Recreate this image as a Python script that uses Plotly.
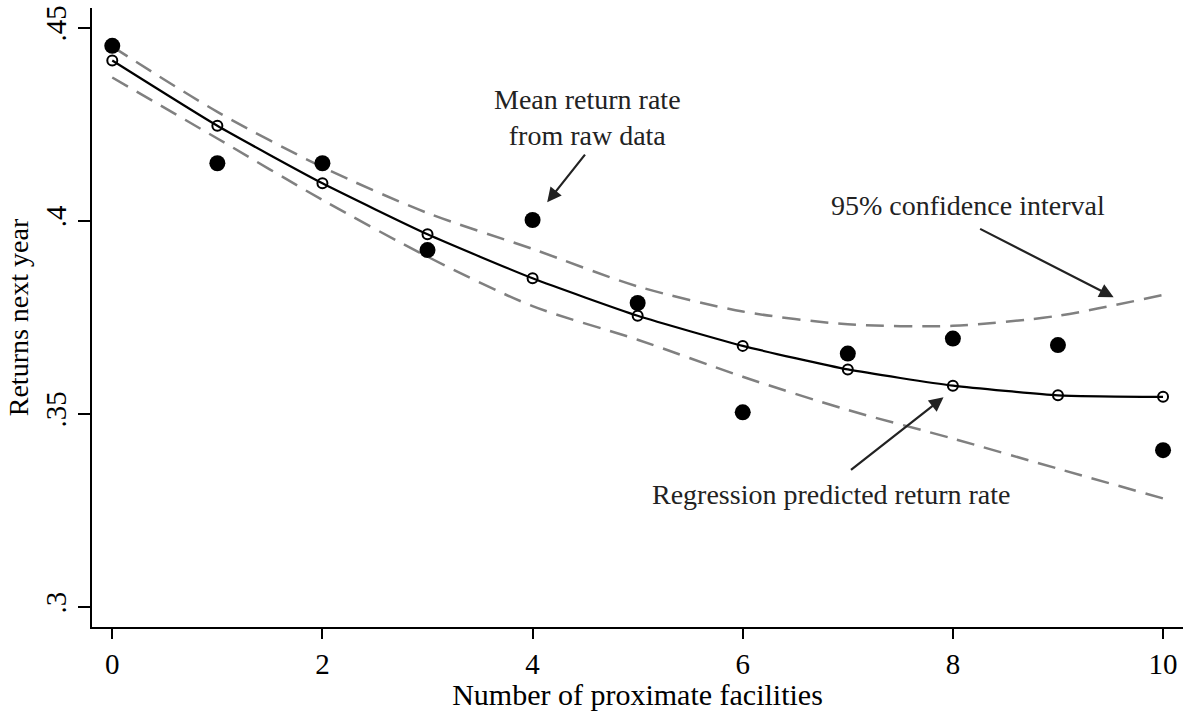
import plotly.graph_objects as go

facilities = [0, 1, 2, 3, 4, 5, 6, 7, 8, 9, 10]
raw_mean = [0.4453, 0.4149, 0.4149, 0.3924, 0.4002, 0.3787, 0.3504, 0.3656, 0.3695, 0.3678, 0.3406]
predicted = [0.4415, 0.4246, 0.4097, 0.3965, 0.3851, 0.3754, 0.3676, 0.3615, 0.3573, 0.3548, 0.3544]
ci_upper = [0.4451, 0.4282, 0.4139, 0.4020, 0.3927, 0.3830, 0.3765, 0.3732, 0.3728, 0.3754, 0.3808]
ci_lower = [0.4371, 0.4213, 0.4054, 0.3907, 0.3779, 0.3692, 0.3596, 0.3510, 0.3436, 0.3358, 0.3281]

x_ticks = [0, 2, 4, 6, 8, 10]
y_ticks = [0.30, 0.35, 0.40, 0.45]
y_tick_labels = [".3", ".35", ".4", ".45"]

# annotations: text, text position, arrow tail, arrow tip (data units)
ann_texts = ["Mean return rate<br>from raw data", "95% confidence interval", "Regression predicted return rate"]
ann_text_x = [4.52, 8.14, 6.84]
ann_text_y = [0.4268, 0.4040, 0.3290]
arrow_tail_x = [4.51, 8.245, 7.016]
arrow_tail_y = [0.4175, 0.3981, 0.3352]
arrow_tip_x = [4.139, 9.53, 7.911]
arrow_tip_y = [0.4048, 0.3802, 0.3543]

FONT = "Liberation Serif"

fig = go.Figure()
dash = "18px,10px"
fig.add_trace(go.Scatter(x=facilities, y=ci_upper, mode="lines",
                         line=dict(color="#808080", width=2.5, dash=dash, shape="spline", smoothing=0.8),
                         showlegend=False))
fig.add_trace(go.Scatter(x=facilities, y=ci_lower, mode="lines",
                         line=dict(color="#808080", width=2.5, dash=dash, shape="spline", smoothing=0.8),
                         showlegend=False))
fig.add_trace(go.Scatter(x=facilities, y=raw_mean, mode="markers",
                         marker=dict(color="black", size=16, line=dict(width=0)),
                         showlegend=False))
fig.add_trace(go.Scatter(x=facilities, y=predicted, mode="lines+markers",
                         line=dict(color="black", width=2.2, shape="spline", smoothing=0.5),
                         marker=dict(symbol="circle-open", color="black", size=10, line=dict(width=2)),
                         showlegend=False))

annotations = []
for t, tx, ty in zip(ann_texts, ann_text_x, ann_text_y):
    annotations.append(dict(x=tx, y=ty, xref="x", yref="y", text=t, showarrow=False,
                            font=dict(family=FONT, size=28, color="#222222"), align="center"))
for hx, hy, tx, ty in zip(arrow_tip_x, arrow_tip_y, arrow_tail_x, arrow_tail_y):
    annotations.append(dict(x=hx, y=hy, xref="x", yref="y", ax=tx, ay=ty, axref="x", ayref="y",
                            text="", showarrow=True, arrowhead=2, arrowsize=1.3, arrowwidth=2.2,
                            arrowcolor="#222222"))

fig.update_layout(
    width=1185, height=711,
    margin=dict(l=92, r=2, t=8, b=84),
    paper_bgcolor="white", plot_bgcolor="white",
    font=dict(family=FONT, size=28, color="black"),
    annotations=annotations,
    xaxis=dict(range=[-0.193, 10.19], tickvals=x_ticks, ticks="outside", ticklen=10, tickwidth=2,
               tickcolor="black", showline=True, linecolor="black", linewidth=2, showgrid=False,
               zeroline=False, tickfont=dict(family=FONT, size=29),
               title=dict(text="Number of proximate facilities", font=dict(family=FONT, size=30), standoff=2)),
    yaxis=dict(range=[0.2948, 0.4551], tickvals=y_ticks, ticktext=y_tick_labels, ticks="outside",
               ticklen=12, tickwidth=2, tickcolor="black", showline=True, linecolor="black", linewidth=2,
               showgrid=False, zeroline=False, tickangle=-90, tickfont=dict(family=FONT, size=29),
               title=dict(text="Returns next year", font=dict(family=FONT, size=28), standoff=4)),
)

fig.write_html("out.html", config={"displayModeBar": False},
               post_script="document.body.style.margin='0';document.body.style.overflow='hidden';")
